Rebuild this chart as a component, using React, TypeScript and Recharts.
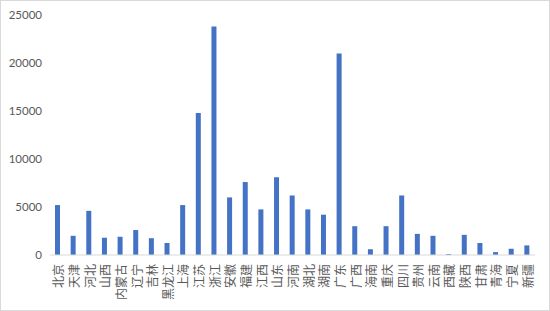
import React from "react"
import { BarChart, Bar, XAxis, YAxis } from "recharts"

const provinces = [
  "北京", "天津", "河北", "山西", "内蒙古", "辽宁", "吉林", "黑龙江", "上海", "江苏",
  "浙江", "安徽", "福建", "江西", "山东", "河南", "湖北", "湖南", "广东", "广西",
  "海南", "重庆", "四川", "贵州", "云南", "西藏", "陕西", "甘肃", "青海", "宁夏", "新疆",
]

const amounts = [
  5200, 2000, 4600, 1800, 1900, 2600, 1750, 1250, 5200, 14800,
  23800, 6000, 7600, 4750, 8100, 6200, 4750, 4200, 21000, 3000,
  600, 3000, 6200, 2200, 2000, 100, 2100, 1250, 300, 650, 1000,
]

const yTicks = [0, 5000, 10000, 15000, 20000, 25000]

const data = provinces.map((name, i) => ({ name, value: amounts[i] }))

function ProvinceTick(props: any) {
  const { x, y, payload } = props
  return (
    <g transform={`translate(${x},${y + 1})`}>
      <text
        transform="rotate(-90)"
        textAnchor="end"
        dominantBaseline="central"
        fill="#595959"
        fontSize={12}
        fontFamily="'Noto Sans CJK SC', sans-serif"
      >
        {payload.value}
      </text>
    </g>
  )
}

export default function App() {
  return (
    <div
      style={{
        position: "fixed",
        left: 0,
        top: 0,
        width: 548,
        height: 309,
        border: "1px solid #d9d9d9",
        background: "#fff",
      }}
    >
      <BarChart
        width={548}
        height={309}
        data={data}
        margin={{ top: 14, right: 14, left: 0, bottom: 5 }}
      >
        <XAxis
          dataKey="name"
          interval={0}
          height={50}
          tickLine={false}
          axisLine={{ stroke: "#d9d9d9" }}
          tick={<ProvinceTick />}
        />
        <YAxis
          width={49}
          domain={[0, 25000]}
          ticks={yTicks}
          axisLine={false}
          tickLine={false}
          tick={{ fill: "#595959", fontSize: 11.5, fontFamily: "Lato, sans-serif" }}
        />
        <Bar dataKey="value" fill="#4472C4" barSize={5} isAnimationActive={false} />
      </BarChart>
    </div>
  )
}
